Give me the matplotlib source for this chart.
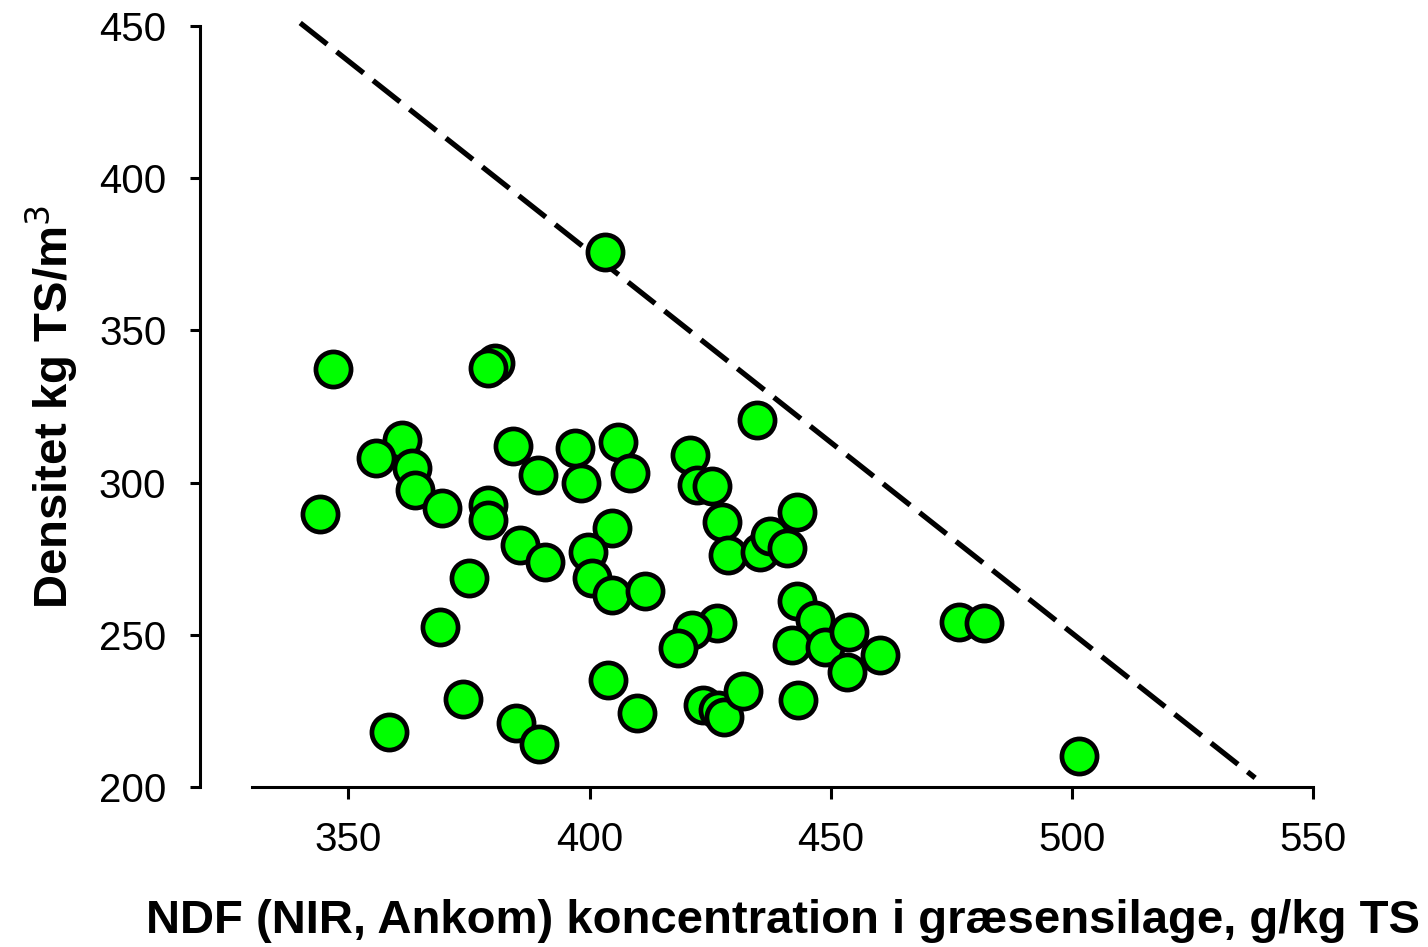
import matplotlib
matplotlib.use("Agg")
import matplotlib.pyplot as plt

plt.rcParams['font.family'] = ['Liberation Sans', 'DejaVu Sans']

# NDF concentration (g/kg TS) and density (kg TS/m3)
ndf = [346.7, 380.3, 378.9, 361.2, 355.8, 363.2, 363.7, 369.3, 384.1, 389.3,
       396.9, 378.9, 378.9, 344.0, 385.5, 390.7, 375.0, 369.0, 373.7, 358.5,
       384.7, 389.5, 405.9, 398.3, 408.4, 420.8, 422.2, 425.3, 427.4, 428.8,
       404.6, 399.7, 400.4, 404.6, 411.5, 426.4, 421.2, 418.4, 403.9, 409.8,
       423.6, 426.7, 427.8, 431.9, 434.7, 443.0, 435.4, 437.4, 440.9, 443.0,
       446.8, 441.9, 448.9, 453.7, 460.3, 453.4, 443.3, 476.5, 481.7, 501.4,
       403.2]
dens = [337.2, 339.4, 337.8, 314.0, 308.0, 304.7, 297.6, 291.8, 312.0, 302.5,
        311.3, 292.6, 287.7, 289.7, 279.5, 274.0, 268.6, 252.7, 228.8, 218.2,
        220.9, 214.1, 313.4, 299.8, 303.0, 309.1, 299.2, 298.8, 287.2, 276.2,
        285.0, 277.3, 268.5, 263.0, 264.5, 253.8, 251.6, 245.6, 235.2, 224.2,
        227.0, 225.3, 223.0, 231.5, 320.6, 290.4, 277.3, 282.5, 278.4, 261.2,
        254.9, 246.7, 246.1, 251.0, 243.4, 237.9, 228.6, 254.3, 253.8, 210.2,
        375.8]

# upper boundary line
line_x = [340, 538]
line_y = [451, 203]

xticks = [350, 400, 450, 500, 550]
yticks = [200, 250, 300, 350, 400, 450]

fig = plt.figure(figsize=(14.28, 9.47), dpi=100)
ax = fig.add_axes([252/1428, 160/947, 1061/1428, 761/947])

ax.plot(line_x, line_y, color='black', lw=3.8, linestyle=(0, (6.5, 2.3)),
        dash_capstyle='butt', clip_on=False, zorder=2)
ax.scatter(ndf, dens, s=640, c='#00ff00', edgecolors='black', linewidths=3.4,
           zorder=3, clip_on=False)

ax.set_xlim(330, 550)
ax.set_ylim(200, 450)
ax.set_xticks(xticks)
ax.set_yticks(yticks)

for s in ['top', 'right']:
    ax.spines[s].set_visible(False)
ax.spines['left'].set_position(('outward', 37.4))
ax.spines['left'].set_linewidth(2.2)
ax.spines['bottom'].set_linewidth(2.2)
ax.tick_params(axis='both', width=2.2, labelsize=29, colors='black')
ax.tick_params(axis='x', length=8.5, pad=16)
ax.tick_params(axis='y', length=7.2, pad=17)

ax.set_xlabel('NDF (NIR, Ankom) koncentration i græsensilage, g/kg TS',
              fontsize=34, fontweight='bold', labelpad=29)
ax.set_ylabel('Densitet kg TS/m$^3$', fontsize=34, fontweight='bold', labelpad=14)

fig.savefig('out.png', dpi=100)
